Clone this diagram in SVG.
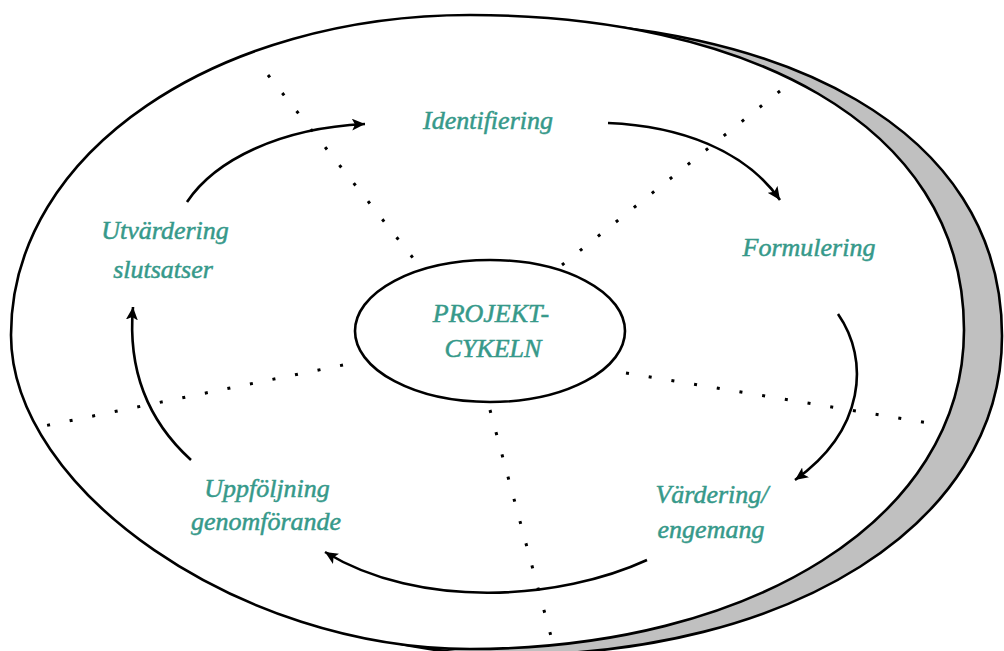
<svg xmlns="http://www.w3.org/2000/svg" width="1004" height="651" viewBox="0 0 1004 651">
<style>
.rim{stroke:#000;stroke-width:2.6;}
.dots{fill:none;stroke:#000;stroke-width:3;stroke-dasharray:3 20;}
.arr{fill:none;stroke:#000;stroke-width:2.6;marker-end:url(#head);}
.lbl{font-family:"Liberation Serif","DejaVu Serif",serif;font-style:italic;font-size:26px;fill:#36998a;stroke:#36998a;stroke-width:0.5;text-anchor:middle;}
</style>
<defs>
<path id="disc" d="M11,335 C11,150 220,15 470,15 C740,15 964,120 964,330 C964,520 750,649 470,649 C240,649 11,490 11,335 Z"/>
<marker id="head" markerUnits="userSpaceOnUse" markerWidth="14" markerHeight="12" refX="13" refY="6" orient="auto" viewBox="0 0 14 12">
<path d="M0,0 L13,6 L0,12 L3,6 Z" fill="#000"/>
</marker>
</defs>
<rect width="1004" height="651" fill="#fff"/>
<g id="disc-shadow">
<use href="#disc" transform="translate(38,6)" class="rim" fill="#c0c0c0"/>
</g>
<g id="disc-outer">
<use href="#disc" class="rim" fill="#fff"/>
</g>
<g id="dividers">
<path class="dots" d="M268,75 L413,258"/>
<path class="dots" d="M780,91 L562,265"/>
<path class="dots" d="M626,373 L928,423"/>
<path class="dots" d="M343,365 L44,426"/>
<path class="dots" d="M490,410 L552,640"/>
</g>
<g id="center">
<ellipse cx="490" cy="331" rx="135" ry="71" class="rim" fill="#fff"/>
<text class="lbl" x="491" y="322">PROJEKT-</text>
<text class="lbl" x="493" y="357">CYKELN</text>
</g>
<g id="connectors">
<path class="arr" d="M187,202 C215,160 280,128 365,124"/>
<path class="arr" d="M608,123 C680,126 745,150 780,200"/>
<path class="arr" d="M838,314 C870,360 865,430 795,480"/>
<path class="arr" d="M647,560 C560,600 420,610 325,552"/>
<path class="arr" d="M191,460 Q125,400 133,307"/>
</g>
<g id="identifiering">
<text class="lbl" x="488" y="129">Identifiering</text>
</g>
<g id="formulering">
<text class="lbl" x="809" y="256">Formulering</text>
</g>
<g id="vardering">
<text class="lbl" x="712" y="503">Värdering/</text>
<text class="lbl" x="711" y="538">engemang</text>
</g>
<g id="uppfoljning">
<text class="lbl" x="267" y="497">Uppföljning</text>
<text class="lbl" x="266" y="530">genomförande</text>
</g>
<g id="utvardering">
<text class="lbl" x="165" y="239">Utvärdering</text>
<text class="lbl" x="163" y="278">slutsatser</text>
</g>
</svg>
